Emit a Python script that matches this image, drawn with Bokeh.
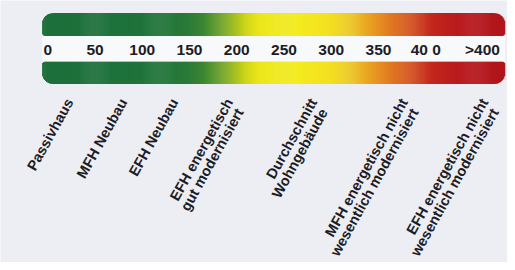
import numpy as np
from bokeh.plotting import figure
from bokeh.models import Range1d
from bokeh.core.properties import value
from bokeh.embed import file_html
from bokeh.resources import INLINE

# ---- data -------------------------------------------------------------
scale_values = [0, 50, 100, 150, 200, 250, 300, 350, 400]
scale_labels = ["0", "50", "100", "150", "200", "250", "300", "350", "40 0"]
overflow_label = [">400"]
overflow_pos = [460]

categories_line1 = ["Passivhaus", "MFH Neubau", "EFH Neubau", "EFH energetisch",
                    "Durchschnitt", "MFH energetisch nicht", "EFH energetisch nicht"]
categories_line2 = ["", "", "", "gut modernisiert", "Wohngebäude",
                    "wesentlich modernisiert", "wesentlich modernisiert"]
category_pos = [23, 80, 134, 192, 281, 377, 462]

# colour stops of the scale (scale value, colour)
stop_values = [-6, 106, 148, 164, 179, 195, 208, 223, 262, 299, 320, 337, 356, 375, 393, 408, 440, 484]
stop_colors = ["#1d6f3b", "#1f733b", "#2a7a38", "#3c8532", "#5e9a2a", "#98b822", "#cad41a",
               "#ebe61c", "#f4ec1e", "#f2e020", "#eec822", "#e9a822", "#e38622", "#da6420",
               "#cd3e1f", "#c2261d", "#b8181c", "#b0161c"]

# ---- layout / style -------------------------------------------------------
W, H = 507, 262
PX = 0.96                       # reference pixels per scale unit
X0 = -48 / PX
X1 = X0 + 515 / PX
BAR_START, BAR_END = stop_values[0], stop_values[-1]
BG = "#eceef3"
FONT = value("Liberation Sans")
TXT = "#1c1c26"

p = figure(width=W, height=H, output_backend="svg", toolbar_location=None,
           x_range=Range1d(X0, X1), y_range=Range1d(0, 270), min_border=0)
p.axis.visible = False
p.grid.visible = False
p.outline_line_color = None
p.background_fill_color = BG
p.border_fill_color = BG

# white band between the two bars
p.quad(left=[BAR_START], right=[BAR_END], top=[233.5], bottom=[207],
       fill_color="#f8f9fb", line_color=None)

# gradient bars built from thin slices
n = int(round((BAR_END - BAR_START) * PX))
i = np.arange(n)
lefts = BAR_START + i / PX
rights = lefts + 1.5 / PX
centers = lefts + 0.5 / PX
dl = i + 0.5
dr = n - i - 0.5


def inset(d, r):
    d = np.asarray(d, dtype=float)
    out = np.zeros_like(d)
    m = d < r
    out[m] = r - np.sqrt(np.maximum(r ** 2 - (r - d[m]) ** 2, 0))
    return out


def hex2rgb(h):
    return [int(h[k:k + 2], 16) for k in (1, 3, 5)]


rgb = np.array([hex2rgb(c) for c in stop_colors], dtype=float)
cols = np.stack([np.interp(centers, stop_values, rgb[:, k]) for k in range(3)], axis=1)
colors = ["#%02x%02x%02x" % tuple(int(round(v)) for v in c) for c in cols]

RB, RS = 11.0, 3.0
big = np.maximum(inset(dl, RB), inset(dr, RB))
small = np.maximum(inset(dl, RS), inset(dr, RS))

# top bar
p.quad(left=lefts, right=rights, top=257 - big, bottom=233.5 + small,
       fill_color=colors, line_color=None)
# bottom bar
p.quad(left=lefts, right=rights, top=207 - small, bottom=184 + big,
       fill_color=colors, line_color=None)

# scale numbers
p.text(x=scale_values + overflow_pos, y=[219] * (len(scale_values) + 1),
       text=scale_labels + overflow_label, text_font=FONT, text_font_style="bold",
       text_font_size="15.5px", text_align="center", text_baseline="middle",
       text_color=TXT)

# rotated category labels
ang = np.deg2rad(61)
y1 = 168
p.text(x=category_pos, y=[y1] * len(category_pos), text=categories_line1,
       angle=ang, text_font=FONT, text_font_style="bold", text_font_size="14.5px",
       text_align="right", text_baseline="middle", text_color=TXT)

sp, along = 14.5, -4.0
dx = (sp * np.sin(ang) + along * np.cos(ang)) / PX
dy = -sp * np.cos(ang) + along * np.sin(ang)
idx = [k for k, t in enumerate(categories_line2) if t]
p.text(x=[category_pos[k] + dx for k in idx], y=[y1 + dy] * len(idx),
       text=[categories_line2[k] for k in idx],
       angle=ang, text_font=FONT, text_font_style="bold", text_font_size="14.5px",
       text_align="right", text_baseline="middle", text_color=TXT)

open("out.html", "w").write(file_html(p, INLINE))
